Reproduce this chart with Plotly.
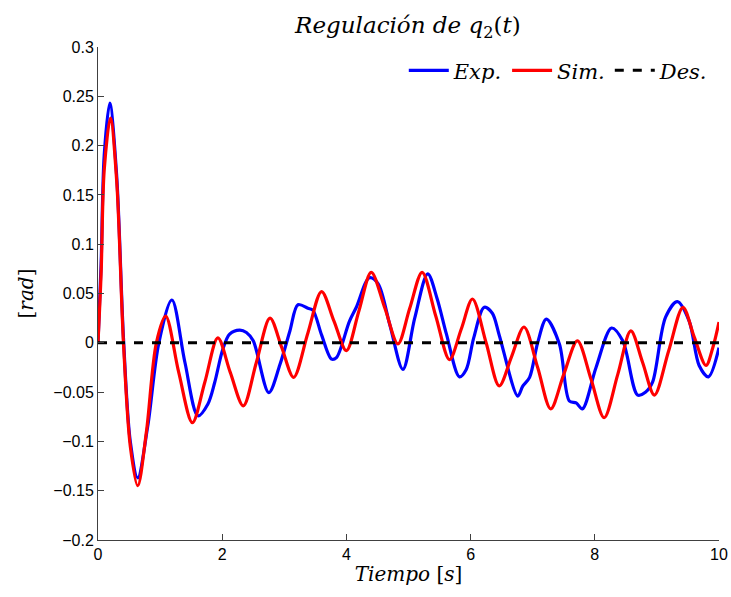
import plotly.graph_objects as go

# Sim. (red)
sim_t = [0, 0.05, 0.10, 0.20, 0.30, 0.41, 0.52, 0.64, 0.78, 0.94, 1.09, 1.30, 1.52, 1.72, 1.93,
         2.13, 2.34, 2.55, 2.77, 2.96, 3.15, 3.38, 3.60, 3.80, 4.00, 4.20, 4.40, 4.62, 4.83,
         5.02, 5.22, 5.44, 5.66, 5.85, 6.03, 6.25, 6.46, 6.66, 6.86, 7.08, 7.29, 7.50, 7.72,
         7.94, 8.15, 8.37, 8.58, 8.77, 8.96, 9.19, 9.42, 9.60, 9.79, 9.90, 10.0]
sim_v = [0, 0.07, 0.175, 0.228, 0.165, 0.0, -0.105, -0.145, -0.09, 0.0, 0.027, -0.03, -0.081,
         -0.04, 0.005, -0.03, -0.064, -0.02, 0.025, -0.005, -0.035, 0.01, 0.052, 0.022, -0.008,
         0.032, 0.0715, 0.035, -0.001, 0.035, 0.0715, 0.027, -0.017, 0.014, 0.0444, 0.0,
         -0.0437, -0.014, 0.016, -0.025, -0.067, -0.032, 0.002, -0.037, -0.076, -0.032, 0.012,
         -0.02, -0.053, -0.008, 0.036, 0.006, -0.023, -0.005, 0.021]

# Exp. (blue)
exp_t = [0, 0.05, 0.10, 0.19, 0.30, 0.41, 0.52, 0.64, 0.80, 0.98, 1.19, 1.40, 1.61, 1.77, 1.88,
         2.01, 2.12, 2.28, 2.39, 2.50, 2.75, 2.93, 3.09, 3.22, 3.38, 3.46, 3.60, 3.76, 3.84,
         4.05, 4.16, 4.37, 4.51, 4.70, 4.91, 5.10, 5.31, 5.46, 5.61, 5.82, 5.93, 6.05, 6.22,
         6.35, 6.46, 6.76, 6.84, 6.95, 7.08, 7.22, 7.43, 7.59, 7.70, 7.80, 8.02, 8.27, 8.45,
         8.69, 8.82, 8.93, 9.14, 9.33, 9.52, 9.68, 9.83, 10.0]
exp_v = [0, 0.08, 0.19, 0.243, 0.17, 0.005, -0.10, -0.137, -0.085, 0.0, 0.0434, -0.02, -0.074,
         -0.062, -0.040, -0.0065, 0.0088, 0.0129, 0.0105, 0.002, -0.0505, -0.022, 0.012, 0.0386,
         0.035, 0.033, 0.008, -0.0166, -0.015, 0.022, 0.036, 0.066, 0.060, 0.018, -0.027, 0.025,
         0.070, 0.045, 0.009, -0.0345, -0.027, 0.005, 0.036, 0.030, 0.008, -0.054, -0.044,
         -0.035, 0.0, 0.024, -0.0013, -0.059, -0.061, -0.067, -0.025, 0.015, 0.002, -0.053,
         -0.050, -0.040, 0.026, 0.0417, 0.022, -0.023, -0.0345, -0.005]

# Des. (black dashed)
des_t = [0, 10]
des_v = [0, 0]

x_ticks = [0, 2, 4, 6, 8, 10]
y_ticks = [-0.2, -0.15, -0.1, -0.05, 0, 0.05, 0.1, 0.15, 0.2, 0.25, 0.3]
y_labels = ["\u22120.2", "\u22120.15", "\u22120.1", "\u22120.05", "0", "0.05", "0.1", "0.15",
            "0.2", "0.25", "0.3"]

serif = "DejaVu Serif, Liberation Serif, serif"
sans = "Liberation Sans, Arial, sans-serif"

fig = go.Figure()
fig.add_trace(go.Scatter(x=exp_t, y=exp_v, mode="lines", name="<i>Exp.</i>",
                         line=dict(color="#0000ff", width=3.2, shape="spline", smoothing=0.9)))
fig.add_trace(go.Scatter(x=sim_t, y=sim_v, mode="lines", name="<i>Sim.</i>",
                         line=dict(color="#ff0000", width=3.2, shape="spline", smoothing=0.9)))
fig.add_trace(go.Scatter(x=des_t, y=des_v, mode="lines", name="<i>Des.</i>",
                         line=dict(color="#000000", width=3, dash="dash")))

fig.update_layout(
    width=731, height=597,
    margin=dict(l=98, r=12, t=47, b=57, autoexpand=False),
    paper_bgcolor="white", plot_bgcolor="white",
    title=dict(text="<i>Regulación de q</i><sub>2</sub>(<i>t</i>)", x=0.558, xanchor="center",
               y=0.958, yanchor="middle", font=dict(family=serif, size=23, color="black")),
    legend=dict(orientation="h", x=0.99, xanchor="right", y=0.952, yanchor="middle",
                font=dict(family=serif, size=21, color="black"), bgcolor="rgba(0,0,0,0)",
                itemwidth=40, tracegroupgap=0, itemclick=False),
    showlegend=True,
)
fig.update_xaxes(range=[0, 10], tickvals=x_ticks, ticktext=[str(v) for v in x_ticks],
                 showgrid=False, zeroline=False, showline=True, linecolor="#404040", linewidth=1,
                 ticks="inside", ticklen=6, tickcolor="#404040", automargin=False,
                 tickfont=dict(family=sans, size=16, color="black"),
                 title=dict(text="<i>Tiempo</i> [<i>s</i>]", font=dict(family=serif, size=20, color="black"),
                            standoff=4))
fig.update_yaxes(range=[-0.2, 0.3], tickvals=y_ticks, ticktext=y_labels,
                 showgrid=False, zeroline=False, showline=True, linecolor="#404040", linewidth=1,
                 ticks="inside", ticklen=6, tickcolor="#404040", automargin=False,
                 tickfont=dict(family=sans, size=16, color="black"),
                 title=dict(text="[<i>rad</i>]", font=dict(family=serif, size=20, color="black"),
                            standoff=14))

fig.write_html("out.html")
